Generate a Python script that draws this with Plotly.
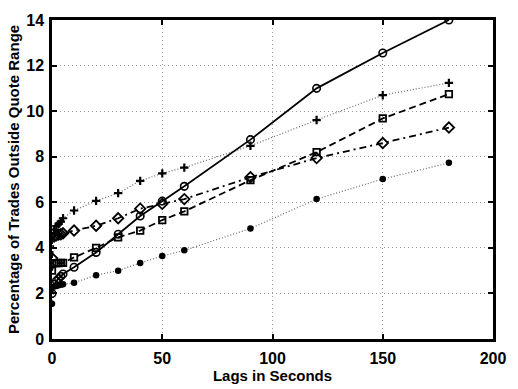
import plotly.graph_objects as go

# Lags (seconds) at which each measure is evaluated
lags = [0, 1, 2, 3, 4, 5, 10, 20, 30, 40, 50, 60, 90, 120, 150, 180]

# Percentage of trades outside the quote range, one list per measure
pct_circle = [2.0, 2.4, 2.55, 2.65, 2.75, 2.85, 3.15, 3.8, 4.6, 5.4, 6.05, 6.7, 8.75, 11.0, 12.55, 14.0]
pct_plus = [4.35, 4.8, 4.95, 5.05, 5.15, 5.3, 5.64, 6.06, 6.4, 6.94, 7.27, 7.52, 8.48, 9.61, 10.7, 11.24]
pct_diamond = [3.55, 4.5, 4.55, 4.58, 4.6, 4.64, 4.76, 4.97, 5.3, 5.72, 5.93, 6.14, 7.1, 7.94, 8.6, 9.28]
pct_square = [3.0, 3.33, 3.33, 3.33, 3.34, 3.34, 3.58, 4.0, 4.46, 4.76, 5.22, 5.6, 6.97, 8.2, 9.68, 10.75]
pct_dot = [1.55, 2.3, 2.33, 2.36, 2.38, 2.4, 2.47, 2.8, 3.0, 3.34, 3.64, 3.89, 4.85, 6.14, 7.02, 7.73]

x_ticks = [0, 50, 100, 150, 200]
y_ticks = [0, 2, 4, 6, 8, 10, 12, 14]

fig = go.Figure()

series = [
    (pct_plus, dict(dash="1px,2px", color="#666666", width=1.2),
     dict(symbol="cross-thin", size=6, line=dict(color="black", width=2.2), color="black")),
    (pct_dot, dict(dash="1px,2px", color="#666666", width=1.2),
     dict(symbol="circle", size=6.5, color="black")),
    (pct_square, dict(dash="7px,4px", color="black", width=1.8),
     dict(symbol="square-open", size=6.5, color="black", line=dict(width=1.8))),
    (pct_diamond, dict(dash="7px,4px,2px,4px", color="black", width=1.8),
     dict(symbol="diamond-open", size=8, color="black", line=dict(width=1.8))),
    (pct_circle, dict(color="black", width=1.8),
     dict(symbol="circle-open", size=7.5, color="black", line=dict(width=1.6))),
]

for vals, line, marker in series:
    fig.add_trace(go.Scatter(x=lags, y=vals, mode="lines+markers",
                             line=line, marker=marker, showlegend=False))

axis_common = dict(
    showline=True, linecolor="black", linewidth=2.5, mirror="ticks",
    ticks="inside", ticklen=5, tickwidth=1.5, tickcolor="black",
    showgrid=True, gridcolor="#9a9a9a", gridwidth=1, griddash="1px,3px",
    zeroline=False,
    tickfont=dict(family="Liberation Sans", size=16, color="black", weight="bold"),
    title_font=dict(family="Liberation Sans", size=15, color="black", weight="bold"),
)

fig.update_xaxes(range=[0, 200], tickvals=x_ticks,
                 ticktext=[str(v) for v in x_ticks], ticklabelstandoff=3,
                 title_text="Lags in Seconds", title_standoff=0, **axis_common)
fig.update_yaxes(range=[0, 14], tickvals=y_ticks,
                 ticktext=[str(v) for v in y_ticks], ticklabelstandoff=2,
                 title_text="Percentage of Trades Outside Quote Range",
                 title_standoff=4, **axis_common)

fig.update_layout(
    width=518, height=389,
    margin=dict(l=50, r=15, t=15, b=39),
    plot_bgcolor="white", paper_bgcolor="white",
)

fig.write_html("out.html")
